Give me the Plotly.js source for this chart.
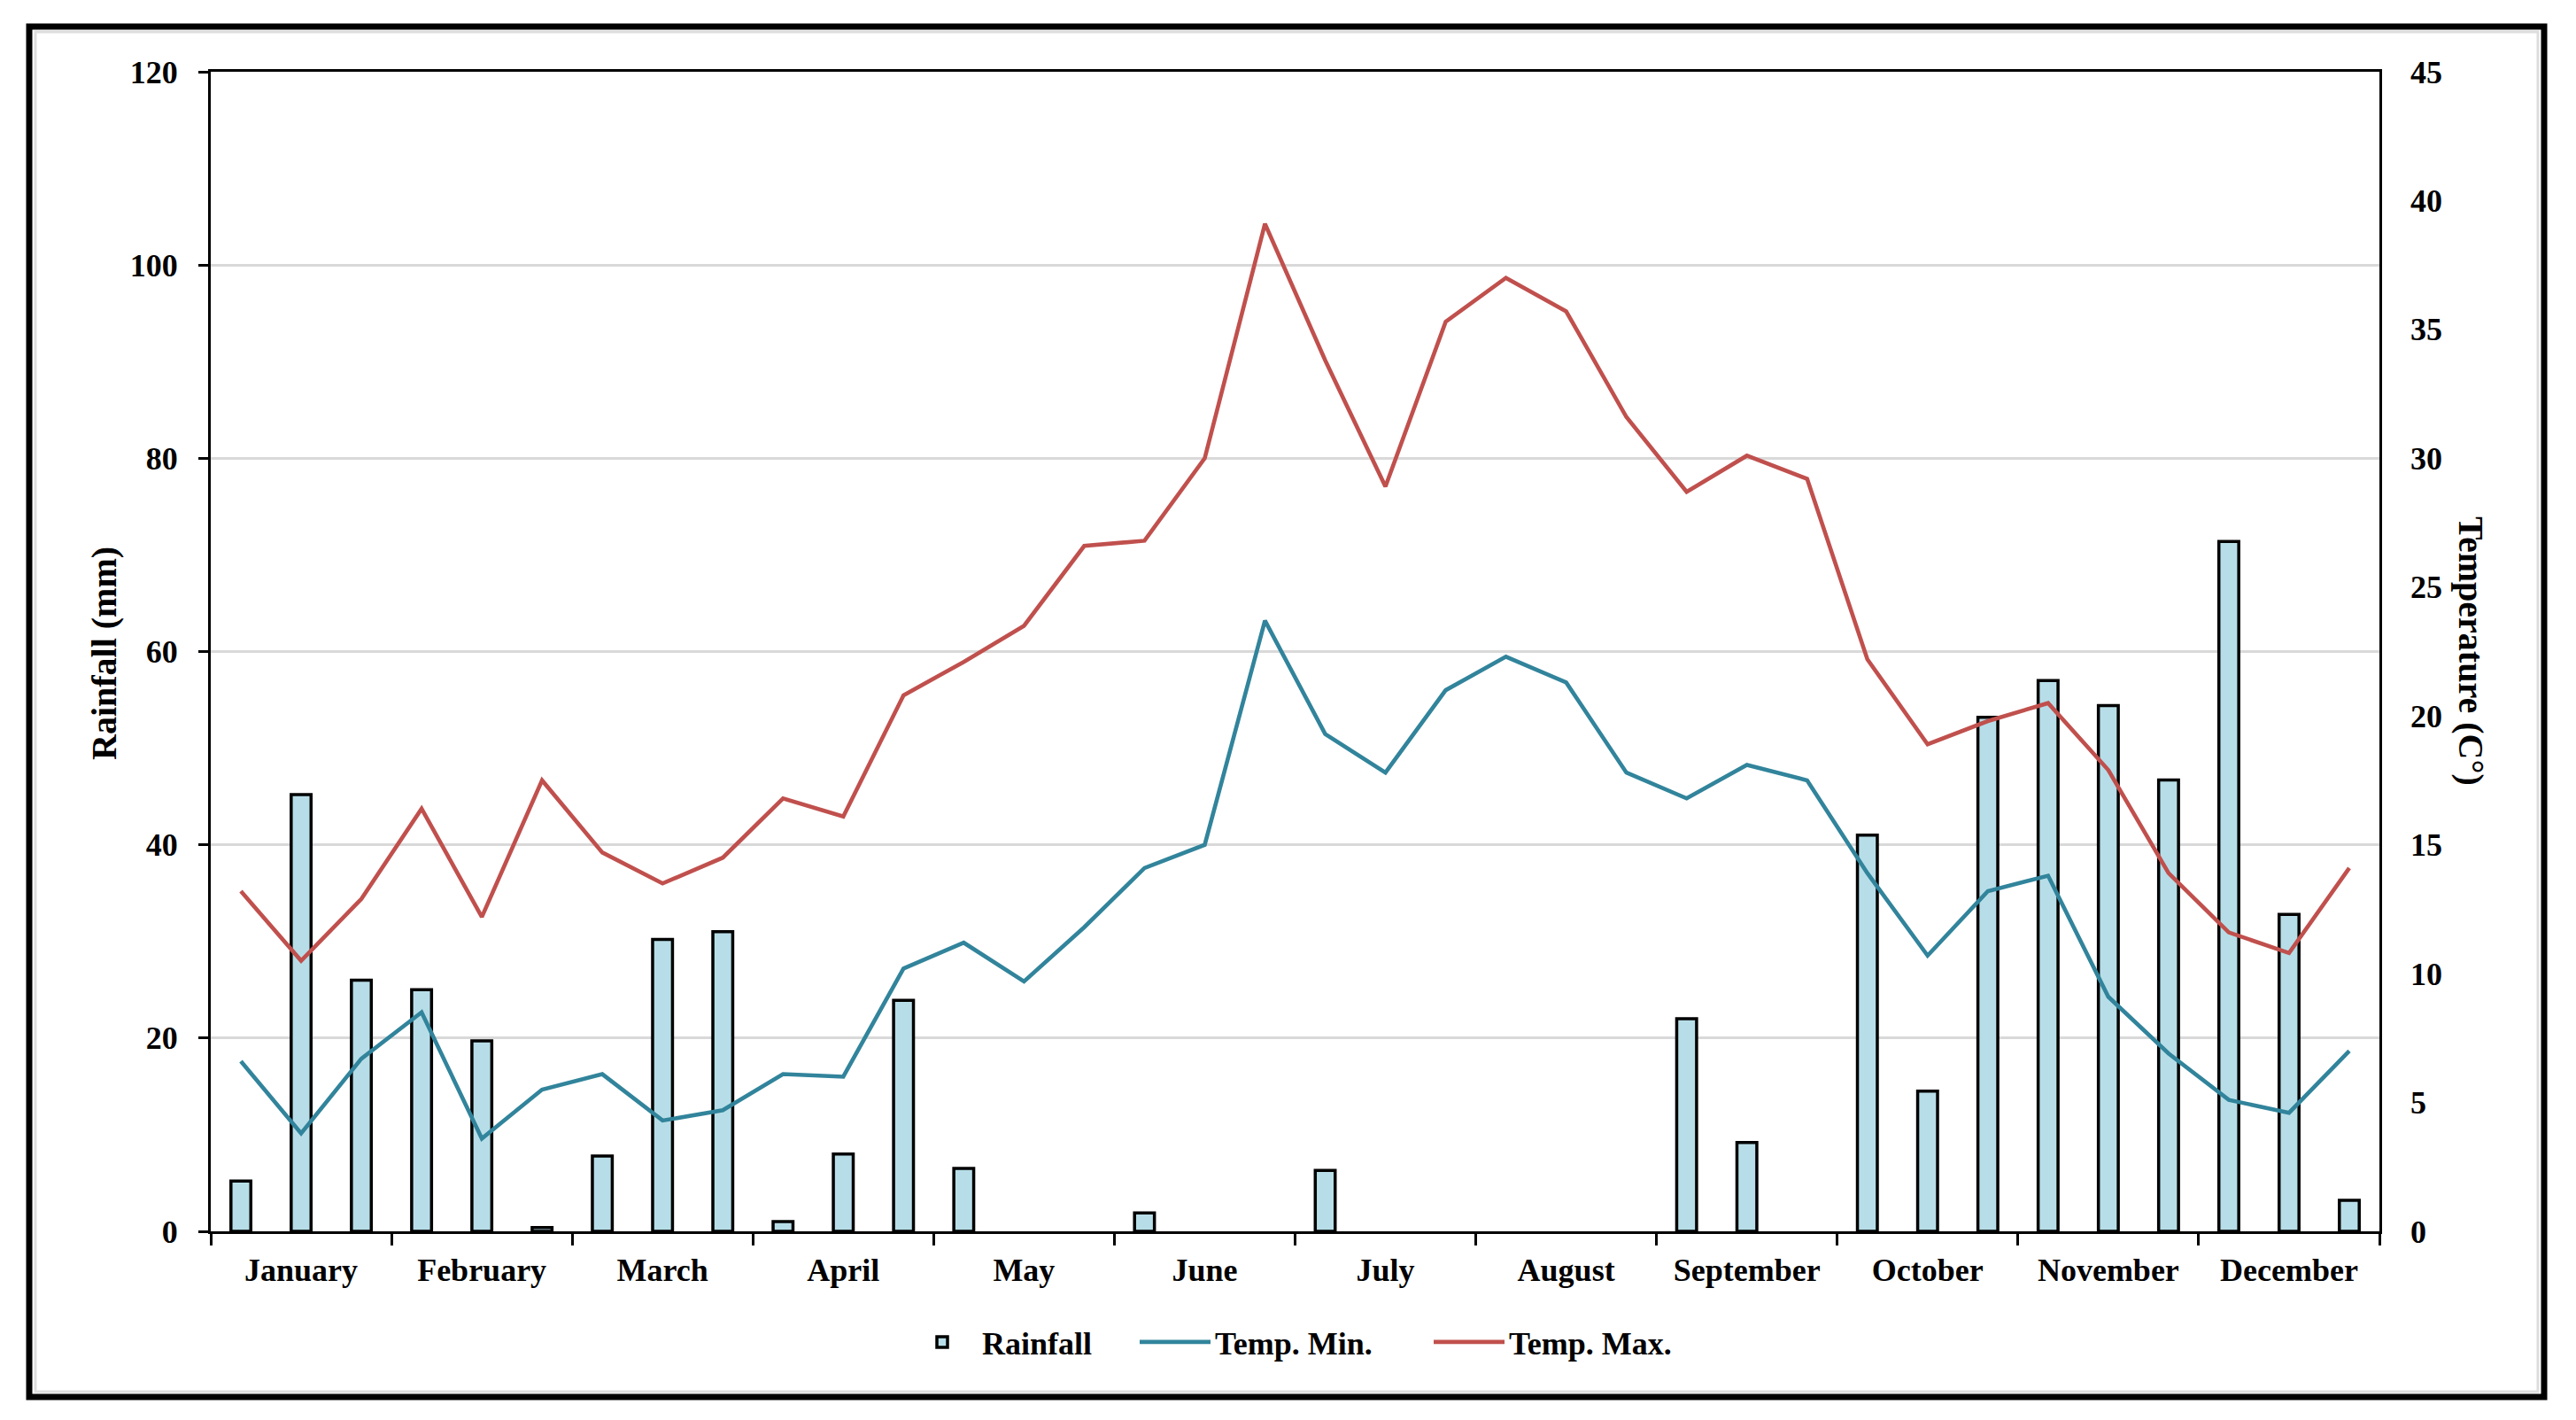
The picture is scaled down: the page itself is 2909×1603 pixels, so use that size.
<!DOCTYPE html>
<html>
<head>
<meta charset="utf-8">
<script src="https://cdn.plot.ly/plotly-3.0.1.min.js"></script>
<style>
html, body { margin: 0; padding: 0; background: #ffffff; }
#chart { width: 2909px; height: 1603px; }
</style>
</head>
<body>
<div id="chart"></div>
<script>
// Month names (x-axis labels), three dekads per month
const months = ["January", "February", "March", "April", "May", "June",
                "July", "August", "September", "October", "November", "December"];

// Dekad labels (36 periods)
const dekads = [];
months.forEach(m => { for (let d = 1; d <= 3; d++) dekads.push(m + " " + d); });

// Rainfall (mm) per dekad
const rainfall = [5.2, 45.2, 26.0, 25.0, 19.7, 0.4, 7.8, 30.2, 31.0, 1.0, 8.0, 23.9,
                  6.5, 0, 0, 1.9, 0, 0, 6.3, 0, 0, 0, 0, 0,
                  22.0, 9.2, 0, 41.0, 14.5, 53.2, 57.0, 54.4, 46.7, 71.4, 32.8, 3.2];

// Minimum temperature (°C) per dekad
const tempMin = [6.6, 3.8, 6.7, 8.5, 3.6, 5.5, 6.1, 4.3, 4.7, 6.1, 6.0, 10.2,
                 11.2, 9.7, 11.8, 14.1, 15.0, 23.7, 19.3, 17.8, 21.0, 22.3, 21.3, 17.8,
                 16.8, 18.1, 17.5, 13.9, 10.7, 13.2, 13.8, 9.1, 6.9, 5.1, 4.6, 7.0];

// Maximum temperature (°C) per dekad
const tempMax = [13.2, 10.5, 12.9, 16.4, 12.2, 17.5, 14.7, 13.5, 14.5, 16.8, 16.1, 20.8,
                 22.1, 23.5, 26.6, 26.8, 30.0, 39.1, 33.8, 28.9, 35.3, 37.0, 35.7, 31.6,
                 28.7, 30.1, 29.2, 22.2, 18.9, 19.8, 20.5, 17.9, 13.9, 11.6, 10.8, 14.1];

const xIdx = dekads.map((_, i) => i);
const monthCenters = months.map((_, i) => i * 3 + 1);
const monthBounds = [];
for (let i = 0; i <= months.length; i++) monthBounds.push(i * 3 - 0.5);

const FONT = "Liberation Serif, Times New Roman, serif";

const L = 238, R = 2687, T = 81, B = 1390;
const W = 2909, H = 1603;
const px = v => (v - L) / (R - L);
const py = v => (B - v) / (B - T);

const legendFont = { family: FONT, size: 36, color: "#000000", weight: "bold" };
const mkLegend = xPix => ({
  orientation: "h", x: px(xPix), xanchor: "left", y: py(1515), yanchor: "middle",
  font: legendFont, bgcolor: "rgba(0,0,0,0)", borderwidth: 0, itemwidth: 80
});

const traces = [
  {
    type: "bar", name: "Rainfall", x: xIdx, y: rainfall, hovertext: dekads, textposition: "none",
    width: 0.33,
    marker: { color: "#B7DEE8", line: { color: "#000000", width: rainfall.map(v => v > 0 ? 3.5 : 0) } },
    yaxis: "y", legend: "legend"
  },
  {
    type: "scatter", mode: "lines", name: "Temp. Min.", x: xIdx, y: tempMin, hovertext: dekads,
    line: { color: "#31849B", width: 4.6 }, yaxis: "y2", legend: "legend2"
  },
  {
    type: "scatter", mode: "lines", name: "Temp. Max.", x: xIdx, y: tempMax, hovertext: dekads,
    line: { color: "#C0504D", width: 4.6 }, yaxis: "y2", legend: "legend3"
  }
];

const layout = {
  width: W, height: H,
  margin: { l: L, r: W - R, t: T, b: H - B, pad: 0 },
  paper_bgcolor: "#ffffff", plot_bgcolor: "#ffffff",
  font: { family: FONT, size: 36, color: "#000000", weight: "bold" },
  showlegend: true,
  bargap: 0,
  xaxis: {
    range: [-0.5, 35.5], fixedrange: true,
    tickmode: "array", tickvals: monthCenters, ticktext: months,
    ticks: "", showgrid: false, zeroline: false,
    showline: true, linecolor: "#000000", linewidth: 3, mirror: true,
    tickfont: { family: FONT, size: 36, color: "#000000", weight: "bold" },
    ticklabelstandoff: 10,
    minor: { tickmode: "array", tickvals: monthBounds, ticks: "outside", ticklen: 13, tickwidth: 3, tickcolor: "#000000", showgrid: false }
  },
  yaxis: {
    range: [0, 120], fixedrange: true,
    tickmode: "array", tickvals: [0, 20, 40, 60, 80, 100, 120],
    ticks: "outside", ticklen: 11, tickwidth: 3, tickcolor: "#000000",
    showgrid: true, gridcolor: "#D9D9D9", gridwidth: 3,
    zeroline: false, showline: true, linecolor: "#000000", linewidth: 3, mirror: true,
    tickfont: { family: FONT, size: 36, color: "#000000", weight: "bold" },
    ticklabelstandoff: 16
  },
  yaxis2: {
    range: [0, 45], fixedrange: true, overlaying: "y", side: "right",
    tickmode: "array", tickvals: [0, 5, 10, 15, 20, 25, 30, 35, 40, 45],
    ticks: "", showgrid: false, zeroline: false, showline: false,
    tickfont: { family: FONT, size: 36, color: "#000000", weight: "bold" },
    ticklabelstandoff: 34
  },
  legend: mkLegend(1019),
  legend2: mkLegend(1282),
  legend3: mkLegend(1614),
  annotations: [
    { text: "Rainfall (mm)", xref: "paper", yref: "paper", x: px(117), y: py(738),
      xanchor: "center", yanchor: "middle", textangle: -90, showarrow: false,
      font: { family: FONT, size: 40, color: "#000000", weight: "bold" } },
    { text: "Temperature (C°)", xref: "paper", yref: "paper", x: px(2790), y: py(735),
      xanchor: "center", yanchor: "middle", textangle: 90, showarrow: false,
      font: { family: FONT, size: 40, color: "#000000", weight: "bold" } }
  ],
  shapes: [
    { type: "rect", xref: "paper", yref: "paper", x0: px(33), x1: px(2873), y0: py(1577), y1: py(30),
      line: { color: "#000000", width: 7 }, fillcolor: "rgba(0,0,0,0)", layer: "below" },
    { type: "rect", xref: "paper", yref: "paper", x0: px(40), x1: px(2866), y0: py(1571), y1: py(36),
      line: { color: "#DDDDDD", width: 3 }, fillcolor: "rgba(0,0,0,0)", layer: "below" }
  ]
};

Plotly.newPlot("chart", traces, layout, { displayModeBar: false, staticPlot: true });
</script>
</body>
</html>
